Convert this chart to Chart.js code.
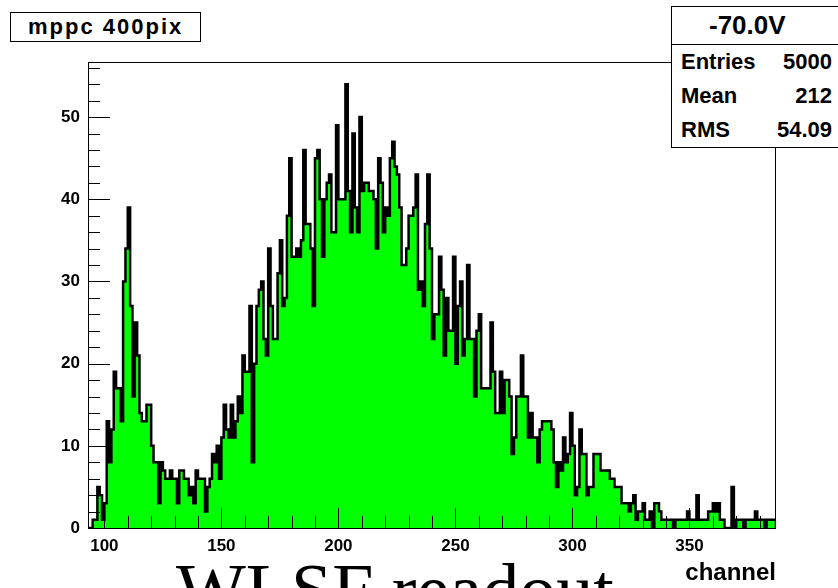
<!DOCTYPE html>
<html>
<head>
<meta charset="utf-8">
<script src="https://cdn.jsdelivr.net/npm/chart.js@4.4.1/dist/chart.umd.min.js"></script>
<style>
  html, body { margin: 0; padding: 0; background: #fff; }
  #wrap { position: relative; width: 838px; height: 588px; overflow: hidden;
          font-family: "Liberation Sans", Arial, sans-serif; color: #000; }
  #plot { position: absolute; left: 0; top: 0; }
  .box { position: absolute; background: #fff; border: 1px solid #000; box-sizing: border-box; }
  #title { left: 10px; top: 12px; width: 191px; height: 30px; font-weight: bold;
           font-size: 22px; line-height: 28px; padding-left: 17px; letter-spacing: 2px; }
  #stats { left: 671px; top: 6px; width: 180px; height: 142px; font-weight: bold; font-size: 22px; }
  #stats .hdr { height: 37px; line-height: 37px; border-bottom: 1px solid #000;
                font-size: 26px; padding-left: 37px; }
  #stats .row { position: relative; height: 34px; line-height: 34px; }
  #stats .row .k { position: absolute; left: 9px; }
  #stats .row .v { position: absolute; right: 18px; }
  #caption { position: absolute; left: 176px; top: 553px; font-family: "Liberation Serif", "Times New Roman", serif;
             font-size: 74px; line-height: 74px; white-space: nowrap; }
</style>
</head>
<body>
<div id="wrap">
  <canvas id="plot" width="838" height="588"></canvas>
  <div id="title" class="box">mppc 400pix</div>
  <div id="stats" class="box">
    <div class="hdr">-70.0V</div>
    <div class="row"><span class="k">Entries</span><span class="v">5000</span></div>
    <div class="row"><span class="k">Mean</span><span class="v">212</span></div>
    <div class="row"><span class="k">RMS</span><span class="v">54.09</span></div>
  </div>
  <div id="caption">WLSF readout</div>
</div>
<script>
// histogram: one channel per bin, first bin starts at channel 93
const firstEdge = 93;
const binWidth = 1;
const counts = [
  0, 0, 0, 1, 1, 5, 4, 1, 3, 13,          // 93-102
  8, 12, 19, 17, 17, 13, 30, 34, 39, 27,  // 103-112
  16, 25, 21, 14, 13, 13, 15, 15, 10, 8,  // 113-122
  8, 3, 8, 7, 6, 6, 7, 6, 6, 3,           // 123-132
  7, 7, 6, 6, 4, 5, 3, 7, 6, 6,           // 133-142
  6, 2, 5, 6, 9, 8, 10, 6, 11, 15,        // 143-152
  12, 11, 15, 11, 13, 16, 14, 21, 19, 19, // 153-162
  27, 8, 20, 27, 29, 30, 23, 21, 34, 27,  // 163-172
  23, 23, 31, 35, 27, 28, 38, 45, 33, 33, // 173-182
  34, 33, 35, 46, 37, 37, 34, 27, 45, 46, // 183-192
  40, 33, 40, 42, 43, 36, 36, 49, 40, 40, // 193-202
  40, 54, 41, 36, 48, 39, 36, 50, 41, 42, // 203-212
  42, 41, 41, 40, 34, 45, 42, 36, 39, 38, // 213-222
  45, 47, 44, 43, 39, 32, 32, 34, 38, 38, // 223-232
  39, 43, 29, 30, 27, 37, 43, 34, 23, 26, // 233-242
  26, 33, 29, 21, 28, 24, 24, 33, 20, 27, // 243-252
  30, 21, 23, 32, 23, 23, 16, 24, 26, 17, // 253-262
  17, 17, 17, 25, 19, 14, 14, 19, 14, 18, // 263-272
  18, 16, 9, 11, 16, 16, 21, 16, 16, 11,  // 273-282
  14, 11, 11, 8, 12, 13, 13, 13, 13, 12,  // 283-292
  8, 5, 8, 7, 11, 8, 9, 14, 10, 4,        // 293-302
  5, 12, 9, 9, 4, 5, 5, 9, 9, 9,          // 303-312
  7, 7, 7, 7, 6, 6, 5, 5, 5, 3,           // 313-322
  3, 3, 2, 3, 4, 1, 2, 2, 3, 1,           // 323-332
  1, 2, 0, 3, 3, 2, 1, 1, 1, 1,           // 333-342
  1, 0, 1, 1, 1, 1, 1, 2, 1, 1,           // 343-352
  1, 4, 1, 1, 1, 1, 2, 2, 3, 2,           // 353-362
  3, 1, 1, 0, 0, 0, 5, 0, 1, 1,           // 363-372
  1, 0, 1, 1, 1, 1, 2, 1, 1, 1,           // 373-382
  0, 1, 1, 1                              // 383-386
];
const xRange = [93, 387];
const yRange = [0, 56.7];
const xLabels = [100, 150, 200, 250, 300, 350];
const yLabels = [0, 10, 20, 30, 40, 50];

// outline points for a stepped line; the last bin is closed back to zero
const lastEdge = firstEdge + counts.length * binWidth;
const outline = [{ x: firstEdge, y: 0 }];
counts.forEach((c, i) => outline.push({ x: firstEdge + i * binWidth, y: c }));
outline.push({ x: lastEdge, y: counts[counts.length - 1] });
outline.push({ x: lastEdge, y: 0 });

const labelFont = { family: 'Liberation Sans', size: 17, weight: 'bold' };

// frame and inward tick marks, ROOT style
const frameTicks = {
  id: 'frameTicks',
  afterDatasetsDraw(chart) {
    const { ctx, chartArea: a, scales: { x, y } } = chart;
    ctx.save();
    ctx.strokeStyle = '#000';
    ctx.lineWidth = 1;
    ctx.strokeRect(a.left + 0.5, a.top + 0.5, a.right - a.left - 1, a.bottom - a.top);
    ctx.beginPath();
    for (let v = 100; v < xRange[1]; v += 10) {
      const px = Math.round(x.getPixelForValue(v)) + 0.5;
      const len = v % 50 === 0 ? 20 : 12;
      ctx.moveTo(px, a.bottom);
      ctx.lineTo(px, a.bottom - len);
    }
    for (let v = 0; v < yRange[1]; v += 2) {
      const py = Math.round(y.getPixelForValue(v)) + 0.5;
      const len = v % 10 === 0 ? 22 : 12;
      ctx.moveTo(a.left, py);
      ctx.lineTo(a.left + len, py);
    }
    ctx.stroke();
    ctx.restore();
  }
};

new Chart(document.getElementById('plot'), {
  type: 'line',
  data: {
    datasets: [{
      data: outline,
      stepped: 'after',
      fill: 'origin',
      backgroundColor: '#00ff00',
      borderColor: '#000',
      borderWidth: 2.5,
      pointRadius: 0,
      tension: 0
    }]
  },
  options: {
    responsive: false,
    animation: false,
    layout: { padding: { top: 62, right: 62, left: 0, bottom: 0 } },
    plugins: { legend: { display: false }, tooltip: { enabled: false } },
    scales: {
      x: {
        type: 'linear',
        min: xRange[0],
        max: xRange[1],
        grid: { display: false, drawTicks: false },
        border: { display: false },
        ticks: { font: labelFont, color: '#000', padding: 8, maxRotation: 0 },
        afterBuildTicks: s => { s.ticks = xLabels.map(v => ({ value: v })); },
        afterFit: s => { s.height = 60; },
        title: {
          display: true, text: 'channel', align: 'end', color: '#000',
          font: { family: 'Liberation Sans', size: 24, weight: 'bold' },
          padding: { top: 0, bottom: 0 }
        }
      },
      y: {
        min: yRange[0],
        max: yRange[1],
        grid: { display: false, drawTicks: false },
        border: { display: false },
        ticks: { font: labelFont, color: '#000', padding: 8 },
        afterBuildTicks: s => { s.ticks = yLabels.map(v => ({ value: v })); },
        afterFit: s => { s.width = 88; }
      }
    }
  },
  plugins: [frameTicks]
});
</script>
</body>
</html>
